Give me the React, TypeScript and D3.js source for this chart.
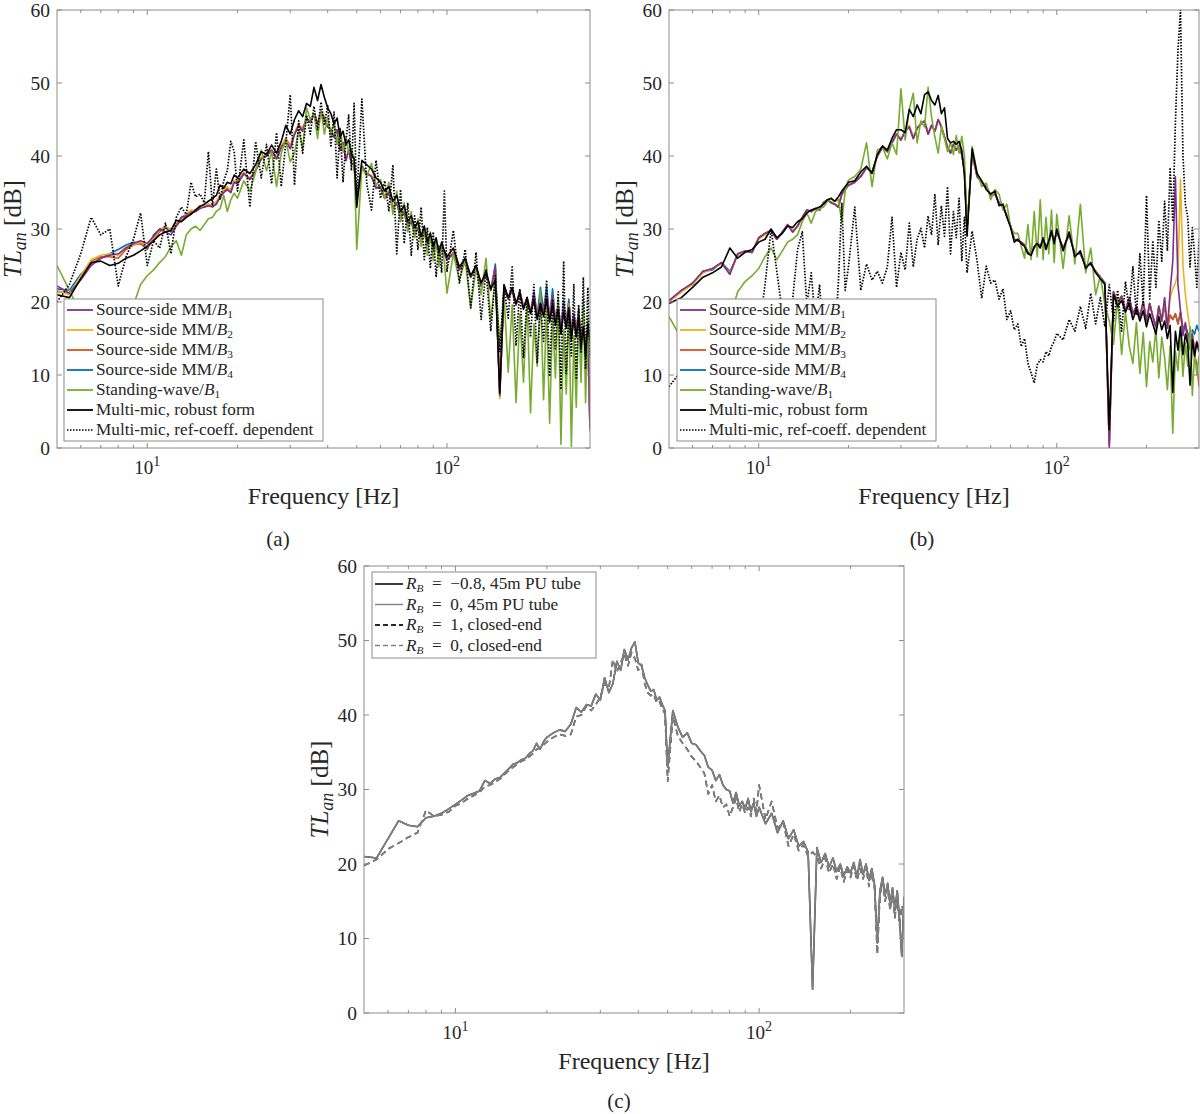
import React, { useEffect } from 'react'
import * as d3 from 'd3'

// frequency grid shared by all traces (Hz)
const FREQ = [
  5, 5.5, 6, 6.5, 7, 7.5, 8, 8.5, 9, 9.5,
  10, 10.5, 11, 11.5, 12, 12.5, 13, 13.5, 14, 14.5, 15, 15.5, 16, 16.5, 17, 17.5, 18, 18.5, 19, 19.5,
  20, 21, 22, 23, 24, 25, 26, 27, 28, 29, 30, 31, 32, 33, 34, 35, 36, 37, 38, 39,
  40, 41, 42, 43, 44, 45, 46, 47, 48, 49,
  50, 52, 54, 56, 58, 60, 62, 64, 66, 68, 70, 72, 74, 76, 78, 80, 82, 84, 86, 88, 90, 92, 94, 96, 98,
  100, 105, 110, 115, 120, 125, 130, 135, 140, 145, 150, 155, 160, 165, 170, 175, 180, 185, 190, 195,
  200, 205, 210, 215, 220, 225, 230, 235, 240, 245, 250, 255, 260, 265, 270, 275, 280, 285, 290, 295, 300,
]

// ---- panel (a) ----
const A_MM1 = [
  22.2, 21.2, 23.0, 25.0, 26.0, 26.4, 26.6, 27.4, 28.0, 28.4,
  28.0, 29.0, 30.0, 29.6, 29.2, 30.4, 31.6, 31.8, 32.2, 32.4, 32.8, 33.0, 33.2, 33.0, 33.4, 34.4, 35.0, 35.4, 35.0, 36.4,
  36.2, 37.6, 36.8, 38.0, 39.6, 40.0, 40.8, 39.6, 41.2, 42.0, 41.0, 43.0, 44.2, 43.4, 45.2, 44.6, 45.8, 44.4, 46.0, 45.0, 44.0, 43.6, 42.6, 43.6, 40.8, 41.8, 39.4, 40.8, 39.0, 38.8,
  34.0, 38.6, 37.6, 37.2, 35.6, 35.8, 34.2, 35.0, 32.8, 33.6, 31.6, 32.2, 30.4, 31.0, 29.4, 30.0, 28.4, 29.6, 27.8, 28.8, 27.0, 28.0, 26.4, 27.6, 26.6,
  25.8, 26.6, 24.4, 25.4, 23.4, 24.6, 22.2, 23.8, 21.6, 24.8, 7.2, 22.0, 20.4, 21.6, 19.6, 21.4, 19.2, 20.4, 18.6, 21.0, 18.0, 20.4, 18.6, 21.0, 17.8, 20.8, 17.4, 19.4, 16.2, 19.4, 17.0, 20.0, 15.6, 18.2, 15.8, 18.8, 14.4, 17.4, 13.0, 16.0, 2.6,
]
const A_MM2 = [
  21.6, 21.0, 23.6, 25.8, 26.4, 26.6, 26.4, 27.6, 27.8, 28.2,
  27.6, 28.8, 29.8, 30.4, 29.8, 30.6, 31.4, 32.0, 32.6, 32.4, 33.0, 33.2, 33.4, 33.2, 33.8, 34.6, 35.4, 35.8, 35.2, 36.6,
  36.4, 37.8, 36.8, 38.2, 39.8, 40.2, 40.6, 39.8, 41.4, 42.2, 41.2, 43.2, 44.4, 43.6, 45.0, 44.8, 45.6, 44.6, 46.2, 45.2, 44.2, 43.4, 42.8, 43.4, 41.0, 41.6, 39.6, 40.6, 39.2, 38.6,
  34.2, 38.8, 37.4, 37.4, 35.8, 35.6, 34.4, 34.8, 33.0, 33.4, 31.8, 32.0, 30.6, 30.8, 29.6, 29.8, 28.6, 29.4, 28.0, 28.6, 27.2, 27.8, 26.6, 27.4, 26.8,
  26.0, 26.4, 24.6, 25.2, 23.6, 24.4, 22.4, 23.6, 21.8, 24.6, 6.8, 22.2, 20.6, 21.4, 19.8, 21.2, 19.4, 20.2, 18.8, 20.8, 18.2, 20.2, 18.8, 20.8, 18.0, 20.6, 17.6, 19.2, 16.4, 19.2, 17.2, 19.8, 15.8, 18.0, 16.0, 18.6, 14.6, 17.2, 13.2, 15.8, 2.2,
]
const A_MM3 = [
  21.4, 21.2, 23.4, 25.6, 26.2, 26.2, 26.0, 27.2, 27.8, 28.0,
  27.4, 28.6, 29.6, 30.2, 30.0, 30.4, 31.2, 31.8, 32.4, 32.6, 33.2, 33.0, 33.2, 33.4, 33.6, 34.4, 35.2, 35.6, 35.4, 36.4,
  36.6, 37.6, 37.0, 38.0, 39.6, 40.4, 40.8, 39.6, 41.2, 42.4, 41.4, 43.0, 44.2, 43.8, 45.2, 44.6, 45.8, 44.4, 46.0, 45.4, 44.0, 43.6, 42.6, 43.6, 40.8, 41.8, 39.4, 40.8, 39.0, 38.8,
  34.0, 38.6, 37.6, 37.2, 35.8, 35.6, 34.2, 35.2, 32.8, 33.6, 31.8, 32.2, 30.4, 31.2, 29.4, 30.0, 28.6, 29.6, 27.8, 28.8, 27.2, 28.0, 26.4, 27.6, 26.6,
  25.8, 26.8, 24.4, 25.4, 23.4, 24.6, 22.2, 23.8, 21.6, 24.6, 7.0, 22.0, 20.4, 21.8, 19.6, 21.4, 19.2, 20.6, 18.6, 21.0, 18.0, 20.6, 18.6, 21.2, 17.8, 20.8, 17.4, 19.4, 16.2, 19.4, 17.0, 20.0, 15.6, 18.2, 15.8, 18.8, 14.4, 17.4, 13.0, 16.0, 2.4,
]
const A_MM4 = [
  21.8, 21.6, 23.8, 25.2, 26.0, 26.6, 27.2, 27.8, 28.2, 28.0,
  27.2, 29.2, 30.0, 30.2, 29.6, 30.6, 31.6, 32.0, 32.4, 32.6, 33.0, 33.2, 33.4, 33.2, 33.4, 34.4, 35.0, 35.4, 35.0, 36.6,
  36.2, 37.6, 36.8, 38.0, 39.6, 40.0, 40.8, 39.8, 41.4, 42.0, 41.0, 43.0, 44.2, 43.4, 45.2, 44.6, 45.8, 44.4, 46.0, 45.0, 44.0, 43.6, 42.6, 43.6, 40.8, 41.8, 39.4, 40.8, 39.0, 38.8,
  34.2, 38.6, 37.6, 37.2, 35.6, 35.8, 34.2, 35.0, 33.0, 33.6, 31.6, 32.4, 30.4, 31.0, 29.4, 30.2, 28.4, 29.6, 27.8, 28.8, 27.0, 28.0, 26.4, 27.8, 26.6,
  25.8, 26.6, 24.6, 25.4, 23.4, 24.8, 22.2, 23.8, 21.6, 25.2, 7.4, 22.0, 20.6, 21.6, 19.6, 21.6, 19.2, 20.6, 18.6, 21.4, 18.2, 22.0, 18.8, 22.2, 17.8, 21.8, 17.6, 19.6, 16.4, 20.2, 17.0, 20.4, 15.6, 18.4, 15.8, 19.0, 14.4, 17.6, 13.0, 16.2, 2.8,
]
const A_SW = [
  25.0, 21.6, 18.4, 16.8, 16.0, 16.4, 17.4, 18.8, 19.6, 22.4,
  23.6, 24.4, 25.4, 26.2, 27.6, 28.4, 26.4, 29.2, 30.0, 30.4, 29.8, 30.6, 31.4, 31.6, 32.4, 32.8, 34.6, 32.4, 34.0, 34.9,
  34.2, 36.6, 35.2, 37.8, 40.8, 38.0, 40.6, 35.8, 40.4, 42.2, 39.2, 40.4, 43.6, 41.0, 46.6, 45.0, 45.8, 42.4, 46.2, 43.0, 45.4, 42.8, 44.6, 41.6, 43.8, 40.6, 42.6, 40.4, 41.0, 39.8,
  27.2, 38.4, 37.2, 39.0, 36.0, 36.8, 34.2, 36.4, 32.0, 35.2, 31.0, 33.6, 29.6, 32.4, 28.8, 31.4, 27.6, 30.4, 26.4, 29.6, 25.6, 28.6, 24.8, 27.8, 25.4,
  21.2, 26.6, 23.0, 25.8, 19.2, 24.6, 21.0, 26.0, 17.4, 23.6, 14.0, 21.0, 10.4, 19.6, 6.2, 18.4, 9.0, 20.2, 4.8, 17.0, 11.2, 21.6, 6.6, 19.4, 3.4, 18.0, 9.6, 20.6, 0.5, 16.2, 7.4, 19.8, 0.2, 15.4, 5.6, 18.6, 9.0, 20.4, 6.2, 17.8, 11.0,
]
const A_ROBUST = [
  21.0, 20.6, 23.2, 25.4, 25.6, 25.0, 25.3, 26.0, 26.4, 27.0,
  27.6, 28.4, 29.2, 29.6, 29.8, 31.2, 31.0, 31.6, 32.0, 32.6, 33.1, 33.4, 33.8, 34.2, 34.6, 36.0, 35.6, 36.4, 36.2, 37.4,
  37.0, 38.2, 37.6, 38.8, 40.6, 40.2, 41.5, 40.4, 42.0, 44.2, 43.0, 45.0, 46.2, 45.4, 47.2, 46.8, 49.4, 47.6, 49.8, 48.0, 46.6, 45.8, 44.4, 45.2, 42.6, 43.4, 41.6, 42.2, 40.2, 39.6,
  33.0, 39.4, 38.8, 38.2, 37.0, 36.4, 35.2, 35.8, 33.8, 34.6, 32.4, 33.2, 31.0, 31.8, 30.2, 31.0, 29.0, 30.4, 28.2, 29.4, 27.6, 28.8, 26.8, 28.2, 27.0,
  26.2, 27.4, 24.8, 26.0, 23.6, 25.0, 22.6, 24.2, 21.8, 23.0, 7.5, 22.4, 20.6, 22.0, 19.8, 21.2, 19.0, 20.6, 18.4, 20.2, 17.6, 19.8, 18.0, 20.4, 17.2, 19.6, 16.8, 19.0, 15.6, 18.6, 16.4, 19.2, 14.8, 17.6, 15.2, 18.0, 13.8, 16.6, 12.4, 17.0, 14.6,
]
const A_REF = [
  20.0, 22.4, 26.6, 31.6, 29.2, 30.0, 22.2, 26.2, 28.6, 32.2,
  25.0, 28.4, 27.4, 30.8, 26.6, 31.6, 33.0, 32.0, 36.4, 34.4, 34.8, 33.6, 40.6, 33.2, 38.2, 34.0, 36.6, 38.0, 42.0, 40.6,
  35.2, 42.2, 33.0, 42.0, 37.0, 41.6, 36.2, 43.2, 35.8, 41.8, 48.4, 36.0, 44.8, 40.4, 45.6, 43.0, 46.8, 43.6, 47.4, 44.2, 47.0, 41.2, 46.0, 37.0, 43.8, 36.4, 42.0, 45.6, 38.0, 47.2,
  34.0, 47.8, 36.2, 32.6, 39.4, 34.2, 36.6, 32.4, 38.8, 26.6, 35.4, 28.0, 33.6, 26.4, 31.8, 27.2, 33.0, 25.8, 30.2, 24.6, 29.6, 23.4, 27.8, 24.0, 35.2,
  24.2, 29.8, 22.6, 27.2, 19.2, 26.8, 17.6, 24.4, 16.0, 23.6, 13.2, 22.2, 17.8, 24.8, 14.0, 21.8, 12.4, 20.6, 15.2, 22.4, 11.6, 19.8, 14.6, 23.0, 9.8, 20.4, 13.6, 21.4, 8.0, 25.6, 10.2, 18.8, 12.6, 22.4, 9.4, 19.6, 13.0, 23.4, 10.8, 22.0, 12.4,
]

// ---- panel (b) ----
const B_MM1 = [
  20.2, 21.6, 22.6, 24.2, 24.6, 25.4, 23.8, 26.6, 27.0, 26.8,
  28.8, 29.4, 29.8, 28.6, 29.6, 30.6, 29.6, 30.4, 31.6, 32.6, 32.4, 32.8, 32.6, 33.6, 34.0, 33.6, 33.4, 33.0, 34.8, 35.4,
  36.0, 36.4, 37.2, 38.4, 37.8, 40.0, 41.2, 40.6, 41.8, 43.0, 42.2, 43.4, 44.0, 42.4, 43.8, 44.4, 44.8, 43.0, 44.2, 43.4, 45.0, 44.0, 42.6, 41.2, 40.4, 41.6, 40.8, 41.4, 40.2, 38.0,
  30.0, 40.4, 37.2, 36.4, 35.8, 34.6, 34.8, 33.6, 33.0, 31.8, 30.4, 28.6, 28.4, 28.2, 27.8, 26.8, 26.6, 27.4, 28.2, 27.6, 28.6, 27.6, 28.2, 29.4, 28.4,
  29.6, 27.4, 29.2, 26.6, 26.6, 25.0, 25.2, 24.2, 23.4, 22.6, 0.0, 21.4, 19.8, 20.8, 18.8, 20.6, 18.4, 19.4, 18.0, 20.0, 17.4, 19.8, 18.0, 16.6, 19.4, 17.4, 20.6, 16.4, 21.4, 25.6, 37.2, 22.4, 18.8, 15.4, 17.2, 14.8, 13.6, 15.6, 13.2, 14.6, 13.8,
]
const B_MM2 = [
  20.0, 21.4, 22.4, 24.0, 24.6, 25.2, 24.0, 26.4, 27.0, 26.8,
  28.6, 29.2, 29.8, 28.8, 29.4, 30.6, 29.8, 30.4, 31.4, 32.6, 32.4, 32.8, 32.6, 33.6, 33.8, 33.8, 33.4, 33.2, 34.6, 35.4,
  36.0, 36.4, 37.2, 38.4, 37.8, 40.0, 41.2, 40.6, 41.8, 43.0, 42.4, 43.4, 44.2, 42.6, 43.8, 44.4, 44.8, 43.2, 44.2, 43.4, 45.0, 44.0, 42.6, 41.4, 40.6, 41.6, 40.8, 41.4, 40.2, 38.2,
  30.2, 40.4, 37.2, 36.4, 35.8, 34.6, 34.8, 33.6, 33.0, 31.8, 30.4, 28.6, 28.4, 28.2, 27.6, 26.8, 26.6, 27.4, 28.2, 27.6, 28.6, 27.6, 28.2, 29.4, 28.4,
  29.6, 27.4, 29.2, 26.6, 26.6, 25.0, 25.2, 24.2, 23.4, 22.6, 0.4, 21.4, 19.8, 20.8, 18.8, 20.6, 18.4, 19.4, 18.0, 20.0, 17.4, 19.8, 18.0, 16.6, 19.4, 17.4, 20.4, 16.4, 20.6, 21.8, 22.6, 24.0, 36.8, 25.0, 21.0, 18.4, 16.2, 15.6, 13.8, 14.6, 13.6,
]
const B_MM3 = [
  20.2, 21.4, 22.6, 24.0, 24.6, 25.4, 23.8, 26.6, 27.0, 26.8,
  28.8, 29.4, 29.8, 28.6, 29.6, 30.6, 29.6, 30.4, 31.6, 32.6, 32.4, 32.8, 32.6, 33.6, 34.0, 33.6, 33.4, 33.0, 34.8, 35.4,
  36.0, 36.4, 37.2, 38.4, 37.8, 40.0, 41.2, 40.6, 41.8, 43.0, 42.2, 43.4, 44.0, 42.4, 43.8, 44.4, 44.8, 43.0, 44.2, 43.4, 45.0, 44.0, 42.6, 41.2, 40.4, 41.6, 40.8, 41.4, 40.2, 38.0,
  30.0, 40.4, 37.2, 36.4, 35.8, 34.6, 34.8, 33.6, 33.0, 31.8, 30.4, 28.6, 28.4, 28.2, 27.8, 26.8, 26.6, 27.4, 28.2, 27.6, 28.6, 27.6, 28.2, 29.4, 28.4,
  29.6, 27.4, 29.2, 26.6, 26.6, 25.0, 25.2, 24.2, 23.4, 22.6, 0.6, 21.4, 19.8, 20.8, 18.8, 20.6, 18.4, 19.4, 18.0, 20.0, 17.4, 19.8, 18.0, 16.6, 19.4, 17.4, 19.6, 16.4, 18.2, 17.6, 18.4, 17.0, 18.6, 16.4, 16.8, 14.8, 13.6, 15.0, 12.6, 11.6, 8.4,
]
const B_MM4 = [
  20.0, 21.6, 22.4, 24.2, 24.4, 25.4, 24.2, 26.4, 27.0, 26.8,
  28.8, 29.4, 29.8, 28.6, 29.6, 30.6, 29.6, 30.4, 31.6, 32.6, 32.4, 32.8, 32.6, 33.6, 34.0, 33.6, 33.4, 33.0, 34.8, 35.4,
  36.0, 36.4, 37.2, 38.4, 37.8, 40.0, 41.2, 40.6, 41.8, 43.0, 42.2, 43.4, 44.0, 42.4, 43.8, 44.4, 44.8, 43.0, 44.2, 43.4, 45.0, 44.0, 42.6, 41.2, 40.4, 41.6, 40.8, 41.4, 40.2, 38.0,
  30.0, 40.4, 37.2, 36.4, 35.8, 34.6, 34.8, 33.6, 33.0, 31.8, 30.4, 28.6, 28.4, 28.2, 27.8, 26.8, 26.6, 27.4, 28.2, 27.6, 28.6, 27.6, 28.2, 29.4, 28.4,
  29.6, 27.4, 29.2, 26.6, 26.6, 25.0, 25.2, 24.2, 23.4, 22.6, 0.6, 21.4, 19.8, 20.8, 18.8, 20.6, 18.4, 19.4, 18.0, 20.0, 17.4, 19.8, 18.0, 16.6, 19.4, 17.4, 19.6, 16.4, 18.2, 17.6, 18.4, 17.0, 18.6, 16.4, 16.8, 15.8, 14.6, 16.2, 15.6, 16.8, 16.0,
]
const B_SW = [
  18.0, 15.0, 12.6, 11.4, 12.0, 14.4, 17.8, 21.4, 22.8, 23.6,
  24.6, 26.2, 27.4, 25.8, 27.0, 28.2, 28.6, 29.2, 31.0, 32.2, 30.8, 32.4, 32.8, 33.0, 33.8, 34.2, 33.8, 34.0, 31.0, 35.2,
  36.7, 37.2, 38.2, 41.8, 35.8, 40.8, 41.2, 39.6, 41.8, 40.2, 49.2, 42.2, 46.4, 48.6, 41.8, 44.8, 44.0, 49.4, 45.4, 42.6, 40.4, 44.0, 42.4, 40.6, 41.8, 40.2, 42.8, 40.4, 42.7, 40.0,
  29.9, 41.3, 37.8, 35.8, 36.3, 34.0, 35.4, 34.8, 32.6, 33.4, 30.3, 29.4, 29.4, 27.6, 26.0, 30.6, 25.8, 32.4, 26.2, 34.0, 25.8, 31.6, 26.6, 32.6, 25.4,
  32.0, 24.6, 31.8, 25.2, 33.4, 24.0, 27.4, 21.0, 23.6, 19.6, 17.4, 14.2, 20.4, 12.8, 18.6, 14.0, 11.6, 17.2, 10.2, 15.8, 8.4, 14.6, 11.8, 16.4, 9.6, 15.2, 12.4, 8.0, 14.0, 2.0, 13.2, 10.6, 15.8, 9.8, 14.4, 11.2, 16.6, 7.2, 13.2, 10.0, 12.6,
]
const B_ROBUST = [
  19.8, 20.6, 22.0, 23.4, 24.0, 24.8, 27.4, 26.0, 26.8, 27.2,
  28.2, 28.6, 30.0, 28.8, 29.4, 30.4, 30.2, 31.0, 31.4, 32.2, 32.6, 32.8, 33.0, 33.4, 34.0, 34.2, 33.8, 34.4, 35.2, 35.8,
  36.4, 36.6, 37.8, 38.6, 37.6, 40.2, 41.4, 40.8, 42.4, 43.6, 43.6, 43.2, 46.4, 45.4, 47.0, 45.8, 48.4, 48.8, 47.6, 47.0, 48.3, 45.8, 46.6, 42.4, 41.8, 42.0, 41.6, 42.0, 40.8, 37.4,
  29.0, 41.0, 37.6, 36.6, 35.4, 34.8, 35.2, 33.2, 33.4, 31.6, 30.2, 28.2, 28.6, 28.0, 27.6, 26.6, 26.4, 27.6, 28.0, 27.4, 28.8, 27.2, 28.4, 29.8, 28.0,
  30.0, 27.0, 29.6, 26.2, 27.0, 24.6, 25.4, 24.0, 23.2, 22.4, 2.5, 21.0, 19.4, 20.2, 18.6, 19.8, 17.6, 19.0, 17.4, 18.8, 16.6, 18.4, 17.0, 15.6, 18.0, 16.2, 17.4, 15.0, 16.8, 7.6, 16.0, 13.4, 16.6, 12.8, 15.6, 14.2, 8.6, 14.8, 12.6, 14.4, 13.2,
]
const B_REF = [
  8.4, 10.6, 13.2, 11.8, 15.0, 12.6, 16.4, 14.2, 17.8, 15.6,
  15.6, 22.4, 30.0, 24.2, 18.6, 15.8, 20.4, 27.2, 29.6, 19.6, 24.0, 17.2, 22.4, 14.6, 12.8, 16.2, 15.0, 22.6, 33.6, 21.6,
  24.8, 33.0, 21.6, 25.2, 23.0, 24.2, 22.6, 24.8, 31.6, 22.0, 26.8, 24.4, 30.8, 24.8, 28.6, 30.1, 27.4, 31.8, 29.2, 34.7, 27.9, 33.2, 29.0, 35.8, 26.6, 32.4, 28.8, 34.2, 25.7, 31.6,
  24.0, 29.7, 25.7, 20.5, 24.9, 22.6, 23.0, 20.4, 21.8, 17.6, 18.8, 16.2, 17.0, 13.9, 15.0, 11.6, 10.3, 8.9, 11.4, 12.1, 11.8, 13.2, 12.6, 13.9, 14.6,
  15.7, 14.8, 17.6, 16.0, 19.4, 16.4, 21.2, 17.0, 20.6, 16.6, 22.4, 17.4, 21.6, 16.0, 22.8, 19.0, 24.8, 18.2, 26.6, 19.6, 34.6, 20.4, 28.4, 22.0, 31.2, 25.6, 33.8, 27.0, 38.4, 31.0, 44.6, 54.4, 60.0, 40.2, 33.4, 31.6, 24.8, 30.2, 26.4, 22.0, 28.6,
]

// ---- panel (c) ----
const C_TUBE_0 = [
  21.0, 20.8, 23.4, 25.8, 25.2, 25.0, 26.2, 26.4, 26.8, 27.4,
  28.0, 28.6, 29.2, 29.5, 29.8, 31.2, 30.8, 31.4, 31.6, 32.2, 32.8, 33.4, 33.6, 34.0, 34.2, 34.8, 35.2, 36.2, 35.4, 36.4,
  37.0, 37.6, 38.0, 37.8, 38.8, 41.0, 40.4, 41.4, 41.2, 42.8, 42.0, 45.0, 43.0, 44.2, 47.2, 46.0, 48.8, 47.4, 49.0, 49.8, 47.0, 46.6, 45.0, 44.0, 43.2, 43.4, 42.0, 42.4, 41.4, 40.6,
  33.0, 40.6, 38.4, 37.0, 37.6, 36.2, 36.0, 35.2, 34.6, 33.0, 32.6, 31.2, 32.0, 30.6, 30.0, 29.8, 28.2, 29.6, 27.8, 28.4, 27.4, 28.8, 27.0, 28.2, 26.4,
  27.6, 25.4, 26.8, 24.2, 25.8, 23.4, 24.6, 22.4, 23.0, 21.6, 3.2, 22.2, 20.2, 21.4, 19.6, 20.8, 19.0, 20.0, 18.4, 19.6, 18.8, 20.2, 18.2, 20.6, 18.6, 20.0, 17.8, 19.4, 17.2, 9.4, 16.4, 18.2, 15.8, 17.4, 14.6, 16.8, 13.8, 16.4, 12.6, 7.6, 15.6,
]
const C_CLOSED_0 = [
  19.8, 20.6, 22.0, 22.8, 23.6, 24.2, 27.2, 26.4, 26.6, 27.0,
  27.8, 28.2, 28.8, 29.2, 29.6, 30.4, 30.6, 31.0, 31.4, 32.0, 32.6, 33.0, 33.4, 33.8, 34.0, 34.4, 34.8, 35.4, 35.6, 36.0,
  36.4, 37.0, 37.4, 37.2, 37.4, 39.8, 40.0, 41.2, 40.6, 41.4, 42.4, 44.2, 43.6, 47.4, 45.8, 47.0, 48.2, 46.6, 48.4, 47.6, 46.0, 46.8, 44.2, 43.0, 42.6, 42.8, 41.6, 41.8, 40.8, 40.2,
  31.1, 39.8, 37.2, 36.2, 35.4, 34.4, 33.8, 33.0, 32.2, 29.4, 30.6, 28.4, 29.2, 27.6, 28.0, 26.4, 27.6, 28.8, 27.0, 28.0, 26.8, 27.6, 26.4, 28.8, 27.0,
  30.6, 26.0, 28.4, 24.8, 25.6, 22.4, 24.0, 21.8, 22.6, 21.0, 21.6, 21.0, 19.4, 20.8, 18.8, 20.0, 18.0, 19.6, 17.6, 19.2, 18.2, 19.8, 17.8, 19.4, 18.0, 19.6, 17.0, 18.8, 16.8, 7.9, 15.8, 17.6, 15.0, 16.8, 13.8, 16.2, 12.8, 15.6, 11.8, 14.4, 13.6,
]
// the R_B = -0.8 / R_B = 1 traces lie under the grey ones in the figure
const C_TUBE_NEG08 = C_TUBE_0
const C_CLOSED_1 = C_CLOSED_0

const Y_TICKS = [0, 10, 20, 30, 40, 50, 60]
const FONT = '"Liberation Serif", "Times New Roman", serif'
const TEXT = '#262626'
const FRAME = '#8c8c8c'

const PURPLE = '#7E2F8E'
const YELLOW = '#EDB120'
const ORANGE = '#D95319'
const BLUE = '#0072BD'
const GREEN = '#77AC30'
const BLACK = '#000000'
const GREY = '#808080'
const DOT = '1.5 1.5'
const DASH = '6 4'

type Series = { values: number[]; color: string; width: number; dash?: string }
type LegendItem = { label: React.ReactNode; color: string; width: number; dash?: string }

// italic symbol with a subscript, e.g. B_1 or R_B
const sub = (base: string, s: string, size: number, italicSub = false) => (
  <>
    <tspan fontStyle="italic">{base}</tspan>
    <tspan fontSize={size * 0.66} dy={size * 0.17} fontStyle={italicSub ? 'italic' : 'normal'}>{s}</tspan>
  </>
)

const mmLegend = (fs: number): LegendItem[] => [
  { label: <><tspan>Source-side MM/</tspan>{sub('B', '1', fs)}</>, color: PURPLE, width: 1.8 },
  { label: <><tspan>Source-side MM/</tspan>{sub('B', '2', fs)}</>, color: YELLOW, width: 1.8 },
  { label: <><tspan>Source-side MM/</tspan>{sub('B', '3', fs)}</>, color: ORANGE, width: 1.8 },
  { label: <><tspan>Source-side MM/</tspan>{sub('B', '4', fs)}</>, color: BLUE, width: 1.8 },
  { label: <><tspan>Standing-wave/</tspan>{sub('B', '1', fs)}</>, color: GREEN, width: 1.8 },
  { label: 'Multi-mic, robust form', color: BLACK, width: 1.8 },
  { label: 'Multi-mic, ref-coeff. dependent', color: BLACK, width: 1.6, dash: DOT },
]

const rbLabel = (fs: number, rest: string) => (
  <>
    {sub('R', 'B', fs, true)}
    <tspan dy={-fs * 0.17}>{'\u2002=\u2002'}{rest}</tspan>
  </>
)

const rbLegend = (fs: number): LegendItem[] => [
  { label: rbLabel(fs, '−0.8, 45m PU tube'), color: '#262626', width: 1.8 },
  { label: rbLabel(fs, '0, 45m PU tube'), color: GREY, width: 1.4 },
  { label: rbLabel(fs, '1, closed-end'), color: '#262626', width: 1.8, dash: '5 3' },
  { label: rbLabel(fs, '0, closed-end'), color: GREY, width: 1.4, dash: '5 3' },
]

interface LegendBox { x: number; y: number; w: number; h: number; first: number; step: number; fs: number; sample: number }

interface PanelProps {
  id: string
  left: number
  right: number
  top: number
  bottom: number
  series: Series[]
  legendBox: LegendBox
  legend: LegendItem[]
  caption: string
  captionX: number
  captionY: number
}

function Panel({ id, left, right, top, bottom, series, legendBox, legend, caption, captionX, captionY }: PanelProps) {
  const x = d3.scaleLog().domain([5, 300]).range([left, right])
  const y = d3.scaleLinear().domain([0, 60]).range([bottom, top])
  const line = d3.line<number>()
    .defined((_, i) => i < FREQ.length)
    .x((_, i) => x(FREQ[i]))
    .y(d => y(d))

  const xTicks = x.ticks().filter(t => t > 5 && t < 300)
  const isMajor = (t: number) => Math.abs(Math.log10(t) - Math.round(Math.log10(t))) < 1e-9
  const cx = (left + right) / 2
  const cy = (top + bottom) / 2
  const lb = legendBox

  return (
    <g fontFamily={FONT} fill={TEXT}>
      <defs>
        <clipPath id={`clip-${id}`}>
          <rect x={left} y={top} width={right - left} height={bottom - top} />
        </clipPath>
      </defs>

      <g clipPath={`url(#clip-${id})`}>
        {series.map((s, i) => (
          <path
            key={i}
            d={line(s.values) ?? ''}
            fill="none"
            stroke={s.color}
            strokeWidth={s.width}
            strokeDasharray={s.dash}
            strokeLinejoin="round"
          />
        ))}
      </g>

      {/* frame */}
      <rect x={left} y={top} width={right - left} height={bottom - top} fill="none" stroke={FRAME} strokeWidth={1} />

      {/* x ticks (inside, top and bottom) */}
      {xTicks.map(t => {
        const len = isMajor(t) ? 5 : 3
        return (
          <g key={t} stroke={FRAME} strokeWidth={1}>
            <line x1={x(t)} x2={x(t)} y1={bottom} y2={bottom - len} />
            <line x1={x(t)} x2={x(t)} y1={top} y2={top + len} />
          </g>
        )
      })}
      {xTicks.filter(isMajor).map(t => (
        <text key={t} x={x(t)} y={bottom + 26} textAnchor="middle" fontSize={19}>
          <tspan>10</tspan>
          <tspan fontSize={14} dy={-8}>{Math.round(Math.log10(t))}</tspan>
        </text>
      ))}

      {/* y ticks */}
      {Y_TICKS.map(v => (
        <g key={v}>
          <line x1={left} x2={left + 5} y1={y(v)} y2={y(v)} stroke={FRAME} />
          <line x1={right} x2={right - 5} y1={y(v)} y2={y(v)} stroke={FRAME} />
          <text x={left - 7} y={y(v) + 6.5} textAnchor="end" fontSize={19.5}>{v}</text>
        </g>
      ))}

      {/* axis titles */}
      <text x={cx} y={bottom + 56} textAnchor="middle" fontSize={24}>Frequency [Hz]</text>
      <text transform={`translate(${left - 36},${cy}) rotate(-90)`} textAnchor="middle" fontSize={25}>
        <tspan fontStyle="italic">TL</tspan>
        <tspan fontStyle="italic" fontSize={18} dy={5}>an</tspan>
        <tspan dy={-5}> [dB]</tspan>
      </text>

      {/* legend */}
      <rect x={lb.x} y={lb.y} width={lb.w} height={lb.h} fill="#fff" stroke={FRAME} strokeWidth={1} />
      {legend.map((item, i) => {
        const ly = lb.first + i * lb.step
        return (
          <g key={i}>
            <line
              x1={lb.x + 3}
              x2={lb.x + 3 + lb.sample}
              y1={ly}
              y2={ly}
              stroke={item.color}
              strokeWidth={item.width}
              strokeDasharray={item.dash}
            />
            <text x={lb.x + lb.sample + 6} y={ly + lb.fs * 0.3} fontSize={lb.fs}>{item.label}</text>
          </g>
        )
      })}

      <text x={captionX} y={captionY} textAnchor="middle" fontSize={21}>{caption}</text>
    </g>
  )
}

const mmSeries = (mm1: number[], mm2: number[], mm3: number[], mm4: number[], sw: number[], robust: number[], ref: number[]): Series[] => [
  { values: mm4, color: BLUE, width: 1.6 },
  { values: mm3, color: ORANGE, width: 1.6 },
  { values: mm2, color: YELLOW, width: 1.6 },
  { values: mm1, color: PURPLE, width: 1.6 },
  { values: sw, color: GREEN, width: 1.6 },
  { values: robust, color: BLACK, width: 1.6 },
  { values: ref, color: BLACK, width: 1.7, dash: DOT },
]

export default function App() {
  useEffect(() => {
    document.body.style.margin = '0'
  }, [])

  return (
    <svg width={1200} height={1114} viewBox="0 0 1200 1114" style={{ display: 'block', background: '#fff' }}>
      <rect width={1200} height={1114} fill="#fff" />
      <Panel
        id="a"
        left={57}
        right={590}
        top={10}
        bottom={448}
        series={mmSeries(A_MM1, A_MM2, A_MM3, A_MM4, A_SW, A_ROBUST, A_REF)}
        legendBox={{ x: 64, y: 299, w: 259, h: 142, first: 310, step: 20, fs: 17.2, sample: 26 }}
        legend={mmLegend(17.2)}
        caption="(a)"
        captionX={278}
        captionY={546}
      />
      <Panel
        id="b"
        left={669}
        right={1199}
        top={10}
        bottom={448}
        series={mmSeries(B_MM1, B_MM2, B_MM3, B_MM4, B_SW, B_ROBUST, B_REF)}
        legendBox={{ x: 677, y: 299, w: 259, h: 142, first: 310, step: 20, fs: 17.2, sample: 26 }}
        legend={mmLegend(17.2)}
        caption="(b)"
        captionX={922}
        captionY={546}
      />
      <Panel
        id="c"
        left={364}
        right={904}
        top={566}
        bottom={1013}
        series={[
          { values: C_TUBE_NEG08, color: '#262626', width: 1.6 },
          { values: C_CLOSED_1, color: '#262626', width: 1.6, dash: DASH },
          { values: C_TUBE_0, color: GREY, width: 1.6 },
          { values: C_CLOSED_0, color: GREY, width: 1.6, dash: DASH },
        ]}
        legendBox={{ x: 372, y: 572, w: 224, h: 86, first: 584, step: 20.5, fs: 17.2, sample: 28 }}
        legend={rbLegend(17.2)}
        caption="(c)"
        captionX={619}
        captionY={1108}
      />
    </svg>
  )
}
